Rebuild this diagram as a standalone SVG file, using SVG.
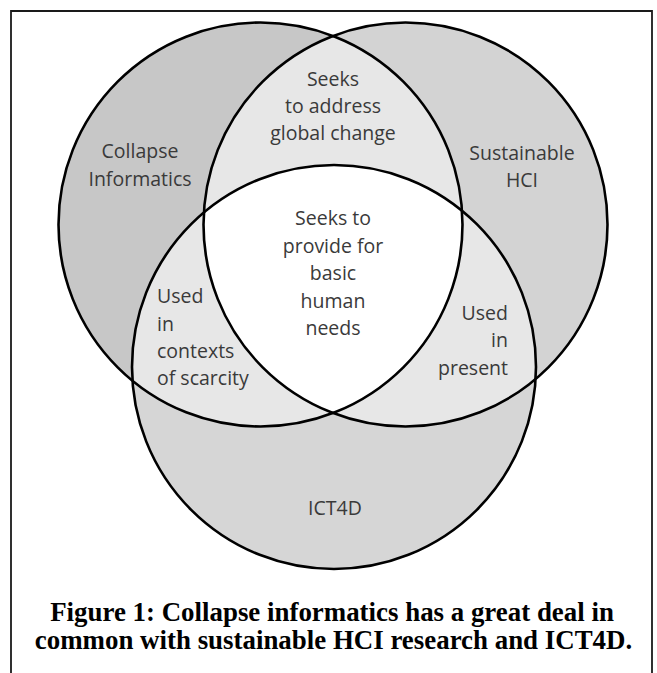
<svg xmlns="http://www.w3.org/2000/svg" width="657" height="673" viewBox="0 0 657 673">
  <style>
    .lbl { font-family: "Open Sans", "Noto Sans", "Liberation Sans", sans-serif; font-size: 19.5px; fill: #3a3a3a; }
    .mid { text-anchor: middle; }
    .end { text-anchor: end; }
    .ring { fill: none; stroke: #000; stroke-width: 2.6; }
    .cap { font-family: "Liberation Serif", "Times New Roman", serif; font-weight: bold; font-size: 26.9px; fill: #000; text-anchor: middle; }
  </style>
  <defs>
    <clipPath id="cL"><circle cx="260.5" cy="224.5" r="202"/></clipPath>
    <clipPath id="cR"><circle cx="405.5" cy="224.5" r="202"/></clipPath>
    <clipPath id="cB"><circle cx="334" cy="367" r="202"/></clipPath>
  </defs>
  <rect width="657" height="673" fill="#fff"/>
  <path d="M11,673 V11 H652 V673" fill="none" stroke="#1a1a1a" stroke-width="1.8"/>

  <g id="collapse-informatics">
    <circle cx="260.5" cy="224.5" r="202" fill="#c7c7c7"/>
  </g>
  <g id="sustainable-hci">
    <circle cx="405.5" cy="224.5" r="202" fill="#d3d3d3"/>
  </g>
  <g id="ict4d">
    <circle cx="334" cy="367" r="202" fill="#d6d6d6"/>
  </g>
  <g id="overlaps">
    <circle cx="405.5" cy="224.5" r="202" fill="#e7e7e7" clip-path="url(#cL)"/>
    <circle cx="334" cy="367" r="202" fill="#e7e7e7" clip-path="url(#cL)"/>
    <circle cx="334" cy="367" r="202" fill="#e7e7e7" clip-path="url(#cR)"/>
    <g clip-path="url(#cL)"><circle cx="405.5" cy="224.5" r="202" fill="#fff" clip-path="url(#cB)"/></g>
  </g>
  <g id="outlines">
    <circle class="ring" cx="260.5" cy="224.5" r="202"/>
    <circle class="ring" cx="405.5" cy="224.5" r="202"/>
    <circle class="ring" cx="334" cy="367" r="202"/>
  </g>

  <g id="labels">
    <text class="lbl mid" x="140" y="158">Collapse</text>
    <text class="lbl mid" x="140" y="186">Informatics</text>
    <text class="lbl mid" x="522" y="160">Sustainable</text>
    <text class="lbl mid" x="522" y="187">HCI</text>
    <text class="lbl mid" x="335" y="515">ICT4D</text>
  </g>
  <g id="global-change">
    <text class="lbl mid" x="333" y="86">Seeks</text>
    <text class="lbl mid" x="333" y="113">to address</text>
    <text class="lbl mid" x="333" y="140">global change</text>
  </g>
  <g id="basic-needs">
    <text class="lbl mid" x="333" y="225">Seeks to</text>
    <text class="lbl mid" x="333" y="252.5">provide for</text>
    <text class="lbl mid" x="333" y="280">basic</text>
    <text class="lbl mid" x="333" y="307.5">human</text>
    <text class="lbl mid" x="333" y="335">needs</text>
  </g>
  <g id="scarcity">
    <text class="lbl" x="157" y="303">Used</text>
    <text class="lbl" x="157" y="331">in</text>
    <text class="lbl" x="157" y="358">contexts</text>
    <text class="lbl" x="157" y="385">of scarcity</text>
  </g>
  <g id="present">
    <text class="lbl end" x="508" y="320">Used</text>
    <text class="lbl end" x="508" y="347">in</text>
    <text class="lbl end" x="508" y="375">present</text>
  </g>
  <g id="caption">
    <text class="cap" x="332" y="621">Figure 1: Collapse informatics has a great deal in</text>
    <text class="cap" x="333.5" y="649">common with sustainable HCI research and ICT4D.</text>
  </g>
</svg>
